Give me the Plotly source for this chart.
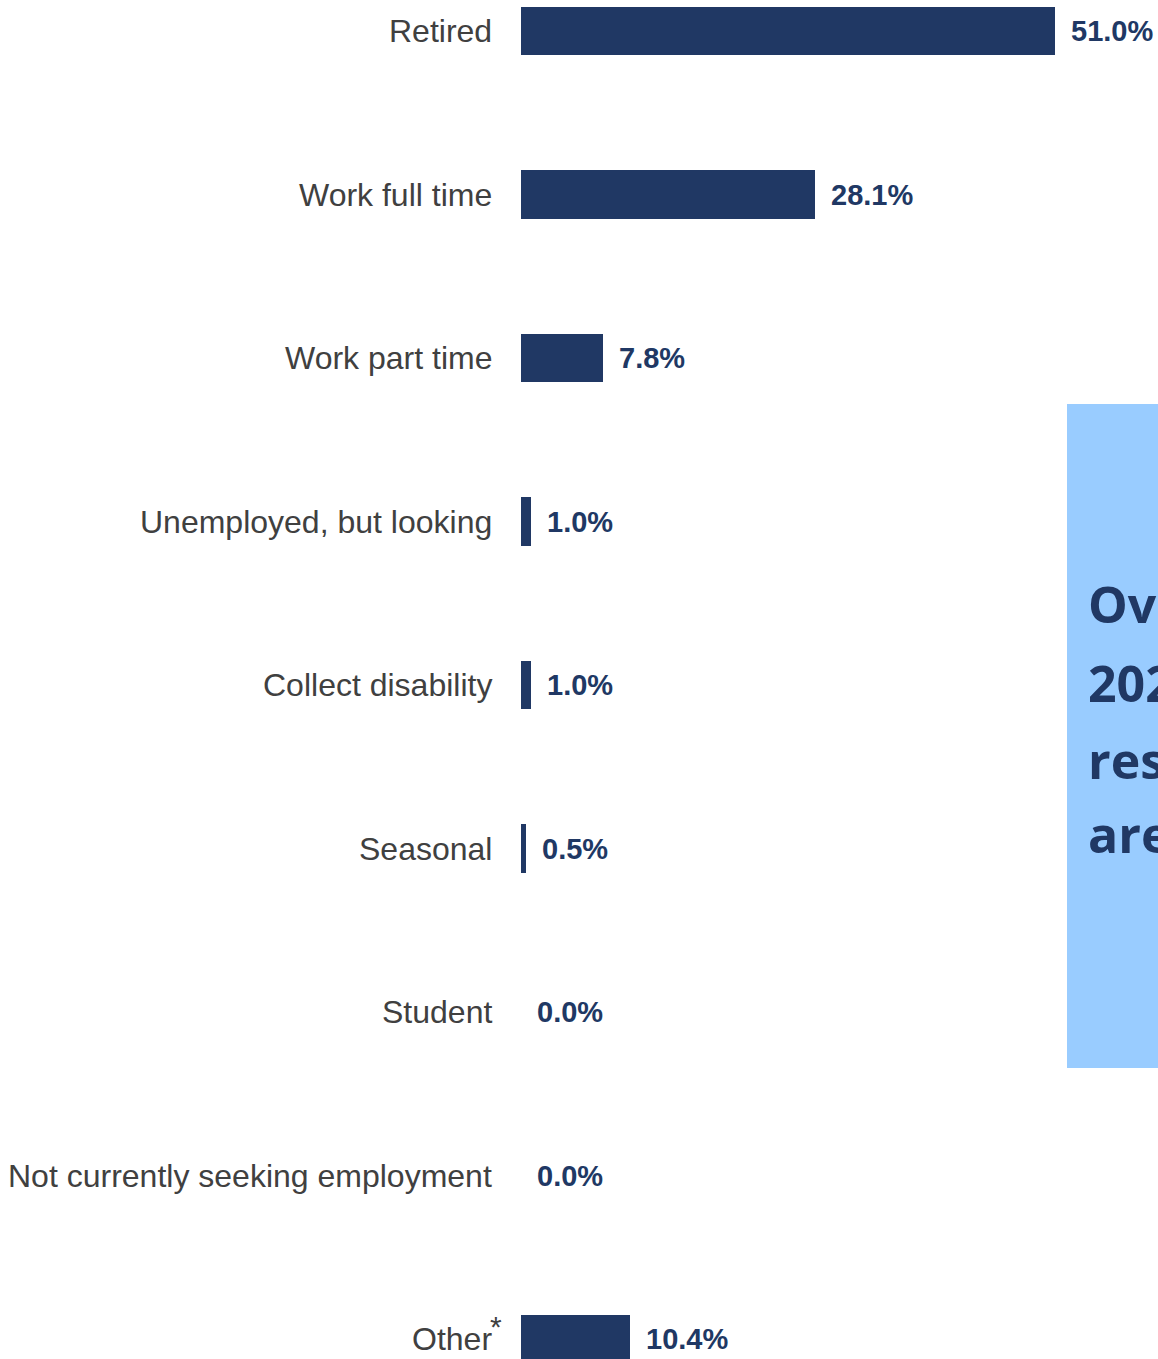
import plotly.graph_objects as go

# Employment status of respondents (% of total)
categories = [
    "Retired",
    "Work full time",
    "Work part time",
    "Unemployed, but looking",
    "Collect disability",
    "Seasonal",
    "Student",
    "Not currently seeking employment",
    "Other",
]
footnote_marks = ["", "", "", "", "", "", "", "", "*"]
values = [51.0, 28.1, 7.8, 1.0, 1.0, 0.5, 0.0, 0.0, 10.4]
value_labels = ["51.0%", "28.1%", "7.8%", "1.0%", "1.0%", "0.5%", "0.0%", "0.0%", "10.4%"]

callout_lines = ["Over", "2022", "respondents", "are"]

W, H = 1158, 1359
NAVY = "#203864"
LABEL_GREY = "#404040"
x0_px = 521          # left edge of the plotting area
px_per_unit = 10.47  # pixels per percentage point
label_right_px = 494 # right edge of the category labels

positions = list(range(len(categories)))

fig = go.Figure()
fig.add_trace(go.Bar(
    x=values,
    y=positions,
    orientation="h",
    marker=dict(color=NAVY, line=dict(width=0)),
    width=0.295,
    hoverinfo="skip",
))

label_font = dict(family="Liberation Sans, Arial", size=32, color=LABEL_GREY)

# category labels, right-aligned left of the bars; footnote marks hang past the edge
for pos, cat, mark in zip(positions, categories, footnote_marks):
    fig.add_annotation(
        x=label_right_px / W, y=pos, xref="paper", yref="y",
        text=cat, showarrow=False, xanchor="right", yanchor="middle",
        font=label_font,
    )
    if mark:
        fig.add_annotation(
            x=label_right_px / W, y=pos, xref="paper", yref="y",
            text=mark, showarrow=False, xanchor="left", yanchor="middle",
            xshift=-6, yshift=13,
            font=dict(family="Liberation Sans, Arial", size=30, color=LABEL_GREY),
        )

# value labels to the right of each bar
for pos, v, lab in zip(positions, values, value_labels):
    fig.add_annotation(
        x=v, y=pos, xref="x", yref="y",
        text=lab, showarrow=False,
        xanchor="left", yanchor="middle", xshift=14,
        font=dict(family="Liberation Sans, Arial", size=29, color=NAVY, weight="bold"),
    )

# light-blue callout panel on the right edge
fig.add_shape(
    type="rect", xref="paper", yref="paper",
    x0=1067 / W, x1=1.05, y0=1 - 1068 / H, y1=1 - 404 / H,
    fillcolor="#99CCFF", line=dict(width=0), layer="below",
)
line_centers = [604, 683, 760, 834]
for txt, yc in zip(callout_lines, line_centers):
    fig.add_annotation(
        x=1086 / W, y=1 - yc / H, xref="paper", yref="paper",
        text=txt, showarrow=False, xanchor="left", yanchor="middle",
        font=dict(family="Open Sans", size=50, color=NAVY, weight="bold"),
    )

x_max = (W - x0_px) / px_per_unit
fig.update_layout(
    width=W, height=H,
    margin=dict(l=0, r=0, t=0, b=0),
    paper_bgcolor="white", plot_bgcolor="white",
    showlegend=False,
    bargap=0,
    xaxis=dict(domain=[x0_px / W, 1], range=[0, x_max], visible=False, fixedrange=True),
    yaxis=dict(
        range=[(H - 31) / 163.5, -31 / 163.5],
        showticklabels=False,
        showgrid=False, zeroline=False, showline=False, ticks="",
        fixedrange=True,
    ),
)

fig.write_html("out.html", config={"displayModeBar": False})
